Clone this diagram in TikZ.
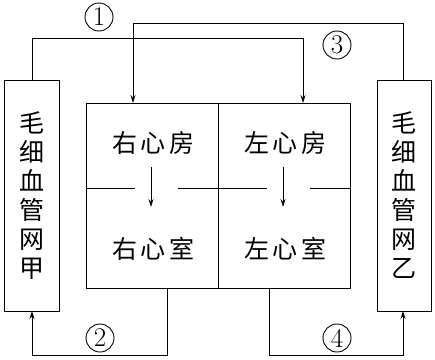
\documentclass[tikz,border=0pt]{standalone}
\usepackage{fontspec}
\newfontfamily\cjk{Noto Sans CJK SC}
\usetikzlibrary{arrows.meta}
\begin{document}
\begin{tikzpicture}[x=1pt,y=-1pt,
  line/.style={line width=0.8pt},
  arr/.style={line width=0.8pt,-{Stealth[length=8pt,width=5pt]}},
  boxline/.style={draw,line width=0.8pt},
  lbl/.style={font=\cjk\fontsize{25}{25}\selectfont\addfontfeature{LetterSpace=14}, inner sep=0pt},
  vlbl/.style={font=\cjk\fontsize{25}{29}\selectfont, align=center, inner sep=0pt},
  num/.style={circle,draw,line width=0.9pt,minimum size=28pt,inner sep=0pt,font=\fontsize{27}{27}\selectfont}]
\useasboundingbox (0,0) rectangle (435,359);
% heart
\draw[line width=0.8pt] (86,103) rectangle (350,288);
\draw[line] (218,103) -- (218,288);
\draw[line] (86,188) -- (135,188) (178,188) -- (267,188) (310,188) -- (350,188);
% capillary boxes
\node[boxline, minimum width=55pt, minimum height=231pt, inner sep=0pt] (capA) at (31.5,195.5) {};
\node[boxline, minimum width=54pt, minimum height=231pt, inner sep=0pt] (capB) at (404,195.5) {};
\node[vlbl] (tA) at (capA) {毛\\细\\血\\管\\网\\甲};
\node[vlbl] (tB) at (capB) {毛\\细\\血\\管\\网\\乙};
% chamber labels
\node[lbl] (ra) at (153,143) {右心房};
\node[lbl] (la) at (285,143) {左心房};
\node[lbl] (rv) at (153,249) {右心室};
\node[lbl] (lv) at (285,249) {左心室};
\coordinate (ra1) at (151,167); \coordinate (rv1) at (151,207);
\coordinate (la1) at (283,167); \coordinate (lv1) at (283,207);
\draw[arr] (ra1) -- (rv1);
\draw[arr] (la1) -- (lv1);
% connectors
\coordinate (c1s) at (32,80); \coordinate (c1e) at (303,103);
\draw[arr] (c1s) -- (32,38) -- (303,38) -- (c1e);
\coordinate (c3s) at (403,80); \coordinate (c3e) at (133,103);
\draw[arr] (c3s) -- (403,23) -- (133,23) -- (c3e);
\coordinate (c2s) at (167,288); \coordinate (c2e) at (32,311);
\draw[arr] (c2s) -- (167,355) -- (32,355) -- (c2e);
\coordinate (c4s) at (269,288); \coordinate (c4e) at (403,311);
\draw[arr] (c4s) -- (269,355) -- (403,355) -- (c4e);
% numbers
\node[num] (n1) at (99,17) {1};
\node[num] (n3) at (337,45) {3};
\node[num] (n2) at (100,338) {2};
\node[num] (n4) at (337,338) {4};
\end{tikzpicture}
\end{document}
